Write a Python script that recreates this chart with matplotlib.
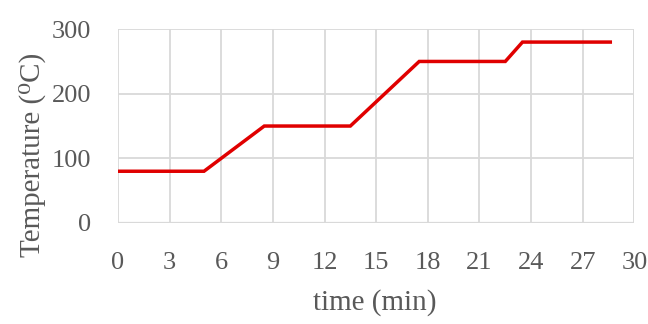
import matplotlib.pyplot as plt
import numpy as np

plt.rcParams['font.family'] = ['Liberation Serif', 'DejaVu Serif']

# heating program: time (min) vs set temperature (C)
time_min = [0, 5.0, 8.5, 13.5, 17.5, 22.5, 23.5, 28.6]
temp_c = [80, 80, 150, 150, 250, 250, 280, 280]

x_ticks = np.arange(0, 31, 3)
y_ticks = [0, 100, 200, 300]

grey = "#595959"
grid_c = "#d9d9d9"

fig = plt.figure(figsize=(6.48, 3.24), dpi=100)
ax = fig.add_axes([0.182, 0.312, 0.797, 0.598])

ax.plot(time_min, temp_c, color="#e00000", lw=2.5, solid_joinstyle="miter", zorder=3)

ax.set_xlim(0, 30)
ax.set_ylim(0, 300)
ax.set_xticks(x_ticks)
ax.set_yticks(y_ticks)
ax.grid(True, color=grid_c, lw=1.3)
ax.set_axisbelow(True)
for s in ax.spines.values():
    s.set_visible(False)
ax.axhline(0, color=grid_c, lw=1.6, zorder=1)
ax.axvline(30, color=grid_c, lw=1.3, zorder=1)

ax.tick_params(length=0, labelsize=19, labelcolor=grey)
ax.tick_params(axis='x', pad=21)
ax.tick_params(axis='y', pad=19)

ax.set_xlabel("time (min)", fontsize=21, color=grey)
ax.set_ylabel("Temperature (⁰C)", fontsize=21, color=grey)
ax.xaxis.label.set_va('center')
ax.yaxis.label.set_va('center')
ax.xaxis.set_label_coords(0.498, -0.41)
ax.yaxis.set_label_coords(-0.165, 0.35)

fig.savefig("out.png", dpi=100)
